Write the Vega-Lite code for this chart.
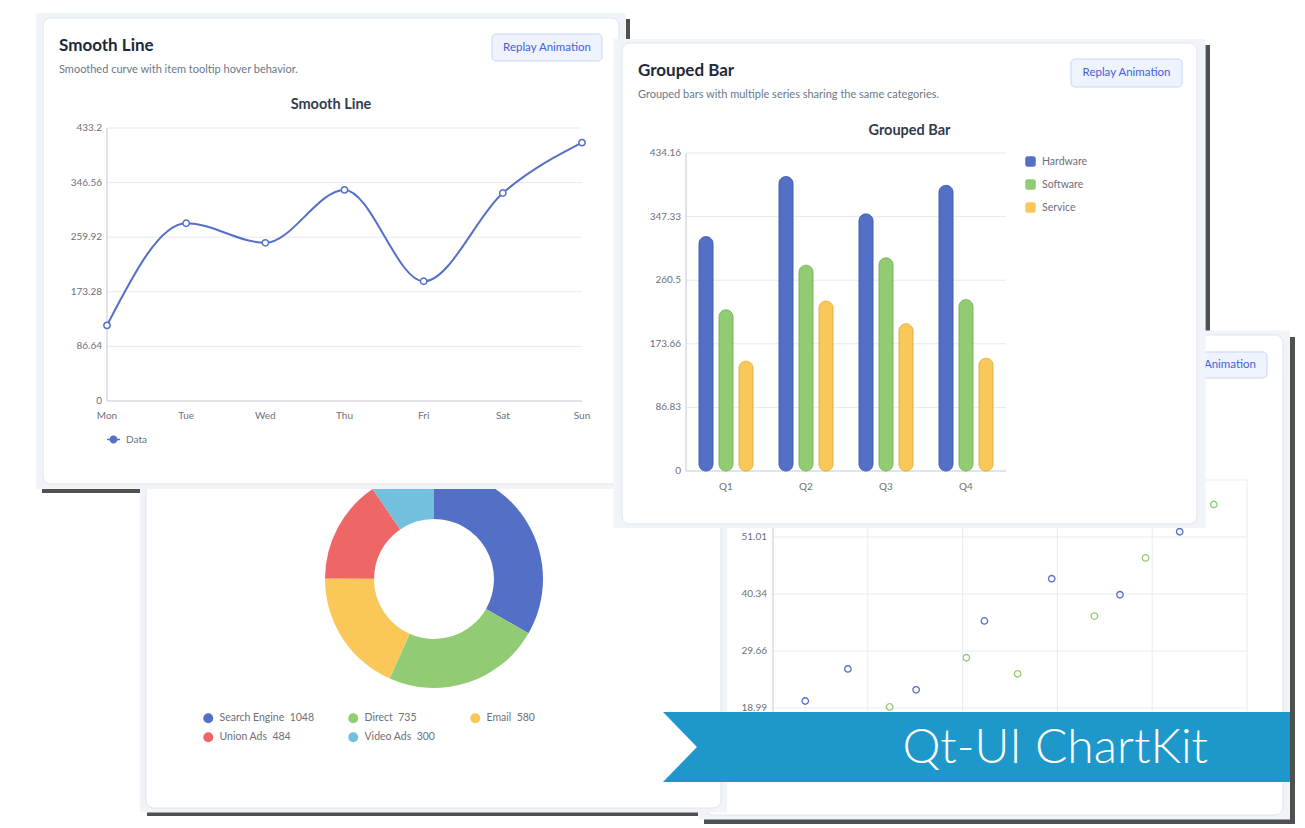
{
"$schema": "https://vega.github.io/schema/vega-lite/v6.json",
"width": 1305,
"height": 828,
"autosize": {"type": "none"},
"padding": 0,
"background": "#ffffff",
"config": {"view": {"stroke": null}, "font": "Lato", "axis": {"disable": true}, "legend": {"padding": 0}},
"resolve": {"scale": {"x": "independent", "y": "independent", "color": "independent", "stroke": "independent", "theta": "independent"}, "legend": {"color": "independent"}},
"layer": [
{"data": {"values": [{"shadow": "Smooth Line"}]}, "mark": {"type": "rect", "color": "#505050"},
 "encoding": {"x": {"field": "shadow", "type": "nominal", "scale": {"type": "band", "domain": ["Smooth Line"], "range": [42, 630], "paddingInner": 0, "paddingOuter": 0}},
              "y": {"field": "shadow", "type": "nominal", "scale": {"type": "band", "domain": ["Smooth Line"], "range": [19, 493], "paddingInner": 0, "paddingOuter": 0}}}},
{"data": {"values": [{"shadow": "Grouped Bar"}]}, "mark": {"type": "rect", "color": "#505050"},
 "encoding": {"x": {"field": "shadow", "type": "nominal", "scale": {"type": "band", "domain": ["Grouped Bar"], "range": [620, 1210], "paddingInner": 0, "paddingOuter": 0}},
              "y": {"field": "shadow", "type": "nominal", "scale": {"type": "band", "domain": ["Grouped Bar"], "range": [45, 532], "paddingInner": 0, "paddingOuter": 0}}}},
{"data": {"values": [{"shadow": "Donut"}]}, "mark": {"type": "rect", "color": "#505050"},
 "encoding": {"x": {"field": "shadow", "type": "nominal", "scale": {"type": "band", "domain": ["Donut"], "range": [147, 732], "paddingInner": 0, "paddingOuter": 0}},
              "y": {"field": "shadow", "type": "nominal", "scale": {"type": "band", "domain": ["Donut"], "range": [336, 816], "paddingInner": 0, "paddingOuter": 0}}}},
{"data": {"values": [{"shadow": "Scatter"}]}, "mark": {"type": "rect", "color": "#505050"},
 "encoding": {"x": {"field": "shadow", "type": "nominal", "scale": {"type": "band", "domain": ["Scatter"], "range": [704, 1295], "paddingInner": 0, "paddingOuter": 0}},
              "y": {"field": "shadow", "type": "nominal", "scale": {"type": "band", "domain": ["Scatter"], "range": [337, 824], "paddingInner": 0, "paddingOuter": 0}}}},

{"data": {"values": [{"panel": "Scatter"}]},
 "encoding": {"x": {"field": "panel", "type": "nominal", "scale": {"type": "band", "domain": ["Scatter"], "range": [705, 1283], "paddingInner": 0, "paddingOuter": 0}},
              "y": {"field": "panel", "type": "nominal", "scale": {"type": "band", "domain": ["Scatter"], "range": [335, 815], "paddingInner": 0, "paddingOuter": 0}}},
 "layer": [
  {"mark": {"type": "rect", "color": "#f1f4f9", "width": {"band": 1.0242}, "height": {"band": 1.0188}}},
  {"mark": {"type": "rect", "fill": "#ffffff", "stroke": "#dfe5ee", "strokeWidth": 1, "cornerRadius": 8}}
 ]},
{"data": {"values": [{"button": "Replay Animation"}]},
 "encoding": {"x": {"field": "button", "type": "nominal", "scale": {"type": "band", "domain": ["Replay Animation"], "range": [1157, 1267], "paddingInner": 0, "paddingOuter": 0}},
              "y": {"field": "button", "type": "nominal", "scale": {"type": "band", "domain": ["Replay Animation"], "range": [352, 378], "paddingInner": 0, "paddingOuter": 0}}},
 "layer": [
  {"mark": {"type": "rect", "fill": "#eef3fe", "stroke": "#c7d6f6", "strokeWidth": 1, "cornerRadius": 4}},
  {"mark": {"type": "text", "align": "center", "baseline": "middle", "fontSize": 11.5, "color": "#4461d8"}, "encoding": {"text": {"field": "button"}}}
 ]},
{"layer": [
  {"data": {"values": [{"tick": 10}, {"tick": 20}, {"tick": 30}, {"tick": 40}, {"tick": 50}]},
   "mark": {"type": "rule", "color": "#e8ebf2", "strokeWidth": 1},
   "encoding": {"x": {"field": "tick", "type": "quantitative", "scale": {"type": "linear", "domain": [0, 50], "range": [773, 1247], "nice": false, "zero": false}},
                "y": {"datum": 8.315, "type": "quantitative", "scale": {"type": "linear", "domain": [8.315, 61.69], "range": [765, 480], "nice": false, "zero": false}},
                "y2": {"datum": 61.69}}},
  {"data": {"values": [{"tick": 18.99}, {"tick": 29.66}, {"tick": 40.34}, {"tick": 51.01}, {"tick": 61.69}]},
   "mark": {"type": "rule", "color": "#e8ebf2", "strokeWidth": 1},
   "encoding": {"y": {"field": "tick", "type": "quantitative", "scale": {"type": "linear", "domain": [8.315, 61.69], "range": [765, 480], "nice": false, "zero": false}},
                "x": {"datum": 0, "type": "quantitative", "scale": {"type": "linear", "domain": [0, 50], "range": [773, 1247], "nice": false, "zero": false}},
                "x2": {"datum": 50}}},
  {"data": {"values": [{"axis": "y"}]},
   "mark": {"type": "rule", "color": "#c3c8d6", "strokeWidth": 1},
   "encoding": {"x": {"datum": 0, "type": "quantitative", "scale": {"type": "linear", "domain": [0, 50], "range": [773, 1247], "nice": false, "zero": false}},
                "y": {"datum": 8.315, "type": "quantitative", "scale": {"type": "linear", "domain": [8.315, 61.69], "range": [765, 480], "nice": false, "zero": false}},
                "y2": {"datum": 61.69}}},
  {"data": {"values": [{"tick": 18.99}, {"tick": 29.66}, {"tick": 40.34}, {"tick": 51.01}]},
   "mark": {"type": "text", "align": "right", "baseline": "middle", "dx": -6, "fontSize": 10, "color": "#6e7079"},
   "encoding": {"x": {"datum": 0, "type": "quantitative", "scale": {"type": "linear", "domain": [0, 50], "range": [773, 1247], "nice": false, "zero": false}},
                "y": {"field": "tick", "type": "quantitative", "scale": {"type": "linear", "domain": [8.315, 61.69], "range": [765, 480], "nice": false, "zero": false}},
                "text": {"field": "tick", "type": "quantitative", "format": "~r"}}},
  {"data": {"values": [
     {"series": "Series A", "x": 3.4, "y": 20.3}, {"series": "Series A", "x": 7.9, "y": 26.3}, {"series": "Series A", "x": 15.1, "y": 22.4},
     {"series": "Series A", "x": 22.3, "y": 35.3}, {"series": "Series A", "x": 29.4, "y": 43.2}, {"series": "Series A", "x": 36.6, "y": 40.2},
     {"series": "Series A", "x": 42.9, "y": 52.0},
     {"series": "Series B", "x": 12.3, "y": 19.2}, {"series": "Series B", "x": 20.4, "y": 28.4}, {"series": "Series B", "x": 25.8, "y": 25.4},
     {"series": "Series B", "x": 33.9, "y": 36.2}, {"series": "Series B", "x": 39.3, "y": 47.1}, {"series": "Series B", "x": 46.5, "y": 57.1}]},
   "mark": {"type": "point", "filled": false, "size": 42, "strokeWidth": 1.3, "opacity": 1},
   "encoding": {"x": {"field": "x", "type": "quantitative", "scale": {"type": "linear", "domain": [0, 50], "range": [773, 1247], "nice": false, "zero": false}},
                "y": {"field": "y", "type": "quantitative", "scale": {"type": "linear", "domain": [8.315, 61.69], "range": [765, 480], "nice": false, "zero": false}},
                "color": {"field": "series", "type": "nominal", "scale": {"domain": ["Series A", "Series B"], "range": ["#5470c6", "#91cc75"]}, "legend": null}}}
 ]},

{"data": {"values": [{"panel": "Donut"}]},
 "encoding": {"x": {"field": "panel", "type": "nominal", "scale": {"type": "band", "domain": ["Donut"], "range": [146, 721], "paddingInner": 0, "paddingOuter": 0}},
              "y": {"field": "panel", "type": "nominal", "scale": {"type": "band", "domain": ["Donut"], "range": [335, 808], "paddingInner": 0, "paddingOuter": 0}}},
 "layer": [
  {"mark": {"type": "rect", "color": "#f1f4f9", "width": {"band": 1.0209}, "height": {"band": 1.019}}},
  {"mark": {"type": "rect", "fill": "#ffffff", "stroke": "#dfe5ee", "strokeWidth": 1, "cornerRadius": 8}}
 ]},
{"data": {"values": [
   {"source": "Search Engine", "value": 1048, "entry": "Search Engine\u00a0 1048"},
   {"source": "Direct", "value": 735, "entry": "Direct\u00a0 735"},
   {"source": "Email", "value": 580, "entry": "Email\u00a0 580"},
   {"source": "Union Ads", "value": 484, "entry": "Union Ads\u00a0 484"},
   {"source": "Video Ads", "value": 300, "entry": "Video Ads\u00a0 300"}]},
 "mark": {"type": "arc", "outerRadius": 109, "innerRadius": 60},
 "encoding": {
   "x": {"datum": "Traffic", "type": "nominal", "scale": {"type": "point", "domain": ["Traffic"], "range": [325, 543], "padding": 0.5}},
   "y": {"datum": "Traffic", "type": "nominal", "scale": {"type": "point", "domain": ["Traffic"], "range": [470, 688], "padding": 0.5}},
   "theta": {"field": "value", "type": "quantitative", "stack": true},
   "order": {"field": "value", "type": "quantitative", "sort": "descending"},
   "color": {"field": "entry", "type": "nominal",
             "scale": {"domain": ["Search Engine\u00a0 1048", "Direct\u00a0 735", "Email\u00a0 580", "Union Ads\u00a0 484", "Video Ads\u00a0 300"], "range": ["#5470c6", "#91cc75", "#fac858", "#ee6666", "#73c0de"]},
             "legend": {"orient": "none", "legendX": 203, "legendY": 713, "title": null, "direction": "horizontal", "columns": 3, "gridAlign": "none", "columnPadding": 34, "rowPadding": 8,
                        "symbolType": "circle", "symbolSize": 100, "symbolStrokeWidth": 0, "labelFontSize": 10.5, "labelColor": "#6e7079", "labelOffset": 6}}
 }},

{"data": {"values": [{"panel": "Smooth Line", "heading": "Smooth Line", "description": "Smoothed curve with item tooltip hover behavior.", "chartTitle": "Smooth Line"}]},
 "encoding": {"x": {"field": "panel", "type": "nominal", "scale": {"type": "band", "domain": ["Smooth Line"], "range": [43, 619], "paddingInner": 0, "paddingOuter": 0}},
              "y": {"field": "panel", "type": "nominal", "scale": {"type": "band", "domain": ["Smooth Line"], "range": [18, 484], "paddingInner": 0, "paddingOuter": 0}}},
 "layer": [
  {"mark": {"type": "rect", "color": "#f1f4f9", "width": {"band": 1.0243}, "height": {"band": 1.0215}}},
  {"mark": {"type": "rect", "fill": "#ffffff", "stroke": "#dfe5ee", "strokeWidth": 1, "cornerRadius": 8}},
  {"mark": {"type": "text", "align": "left", "baseline": "alphabetic", "dx": 16, "dy": 33, "fontSize": 17, "fontWeight": "bold", "color": "#1d2939"},
   "encoding": {"x": {"field": "panel", "type": "nominal", "bandPosition": 0}, "y": {"field": "panel", "type": "nominal", "bandPosition": 0}, "text": {"field": "heading"}}},
  {"mark": {"type": "text", "align": "left", "baseline": "alphabetic", "dx": 16, "dy": 55, "fontSize": 11, "color": "#6b778a"},
   "encoding": {"x": {"field": "panel", "type": "nominal", "bandPosition": 0}, "y": {"field": "panel", "type": "nominal", "bandPosition": 0}, "text": {"field": "description"}}},
  {"mark": {"type": "text", "align": "center", "baseline": "alphabetic", "dx": 0, "dy": 91, "fontSize": 14.5, "fontWeight": "bold", "color": "#333c4e"},
   "encoding": {"x": {"field": "panel", "type": "nominal", "bandPosition": 0.5}, "y": {"field": "panel", "type": "nominal", "bandPosition": 0}, "text": {"field": "chartTitle"}}}
 ]},
{"data": {"values": [{"button": "Replay Animation"}]},
 "encoding": {"x": {"field": "button", "type": "nominal", "scale": {"type": "band", "domain": ["Replay Animation"], "range": [492, 602], "paddingInner": 0, "paddingOuter": 0}},
              "y": {"field": "button", "type": "nominal", "scale": {"type": "band", "domain": ["Replay Animation"], "range": [34, 61], "paddingInner": 0, "paddingOuter": 0}}},
 "layer": [
  {"mark": {"type": "rect", "fill": "#eef3fe", "stroke": "#c7d6f6", "strokeWidth": 1, "cornerRadius": 4}},
  {"mark": {"type": "text", "align": "center", "baseline": "middle", "fontSize": 11.5, "color": "#4461d8"}, "encoding": {"text": {"field": "button"}}}
 ]},
{"layer": [
  {"data": {"values": [{"tick": 86.64}, {"tick": 173.28}, {"tick": 259.92}, {"tick": 346.56}, {"tick": 433.2}]},
   "mark": {"type": "rule", "color": "#e6e9f1", "strokeWidth": 1},
   "encoding": {"y": {"field": "tick", "type": "quantitative", "scale": {"type": "linear", "domain": [0, 433.2], "range": [401, 128], "nice": false, "zero": false}},
                "x": {"datum": "Mon", "type": "nominal", "scale": {"type": "point", "domain": ["Mon", "Tue", "Wed", "Thu", "Fri", "Sat", "Sun"], "range": [107, 582], "padding": 0}},
                "x2": {"datum": "Sun"}}},
  {"data": {"values": [{"axis": "x"}]},
   "mark": {"type": "rule", "color": "#c3c8d6", "strokeWidth": 1},
   "encoding": {"y": {"datum": 0, "type": "quantitative", "scale": {"type": "linear", "domain": [0, 433.2], "range": [401, 128], "nice": false, "zero": false}},
                "x": {"datum": "Mon", "type": "nominal", "scale": {"type": "point", "domain": ["Mon", "Tue", "Wed", "Thu", "Fri", "Sat", "Sun"], "range": [107, 582], "padding": 0}},
                "x2": {"datum": "Sun"}}},
  {"data": {"values": [{"axis": "y"}]},
   "mark": {"type": "rule", "color": "#c3c8d6", "strokeWidth": 1},
   "encoding": {"x": {"datum": "Mon", "type": "nominal", "scale": {"type": "point", "domain": ["Mon", "Tue", "Wed", "Thu", "Fri", "Sat", "Sun"], "range": [107, 582], "padding": 0}},
                "y": {"datum": 0, "type": "quantitative", "scale": {"type": "linear", "domain": [0, 433.2], "range": [401, 128], "nice": false, "zero": false}},
                "y2": {"datum": 433.2}}},
  {"data": {"values": [{"tick": 0}, {"tick": 86.64}, {"tick": 173.28}, {"tick": 259.92}, {"tick": 346.56}, {"tick": 433.2}]},
   "mark": {"type": "text", "align": "right", "baseline": "middle", "dx": -5, "fontSize": 10, "color": "#6e7079"},
   "encoding": {"x": {"datum": "Mon", "type": "nominal", "scale": {"type": "point", "domain": ["Mon", "Tue", "Wed", "Thu", "Fri", "Sat", "Sun"], "range": [107, 582], "padding": 0}},
                "y": {"field": "tick", "type": "quantitative", "scale": {"type": "linear", "domain": [0, 433.2], "range": [401, 128], "nice": false, "zero": false}},
                "text": {"field": "tick", "type": "quantitative", "format": "~r"}}},
  {"data": {"values": [{"day": "Mon"}, {"day": "Tue"}, {"day": "Wed"}, {"day": "Thu"}, {"day": "Fri"}, {"day": "Sat"}, {"day": "Sun"}]},
   "mark": {"type": "text", "align": "center", "baseline": "middle", "dy": 15, "fontSize": 10, "color": "#6e7079"},
   "encoding": {"x": {"field": "day", "type": "nominal", "scale": {"type": "point", "domain": ["Mon", "Tue", "Wed", "Thu", "Fri", "Sat", "Sun"], "range": [107, 582], "padding": 0}},
                "y": {"datum": 0, "type": "quantitative", "scale": {"type": "linear", "domain": [0, 433.2], "range": [401, 128], "nice": false, "zero": false}},
                "text": {"field": "day"}}},
  {"data": {"values": [{"series": "Data", "day": "Mon", "value": 120}, {"series": "Data", "day": "Tue", "value": 282}, {"series": "Data", "day": "Wed", "value": 251},
                       {"series": "Data", "day": "Thu", "value": 335}, {"series": "Data", "day": "Fri", "value": 190}, {"series": "Data", "day": "Sat", "value": 330},
                       {"series": "Data", "day": "Sun", "value": 410}]},
   "mark": {"type": "line", "interpolate": "monotone", "strokeWidth": 2},
   "encoding": {"x": {"field": "day", "type": "nominal", "scale": {"type": "point", "domain": ["Mon", "Tue", "Wed", "Thu", "Fri", "Sat", "Sun"], "range": [107, 582], "padding": 0}},
                "y": {"field": "value", "type": "quantitative", "scale": {"type": "linear", "domain": [0, 433.2], "range": [401, 128], "nice": false, "zero": false}},
                "order": {"value": null},
                "color": {"field": "series", "type": "nominal", "scale": {"domain": ["Data"], "range": ["#5470c6"]},
                          "legend": {"orient": "none", "legendX": 106, "legendY": 432, "title": null, "labelFontSize": 10, "labelColor": "#6e7079", "labelOffset": 5,
                                     "symbolType": "M-1,0L1,0M-0.5,0A0.5,0.5 0 1,1 0.5,0A0.5,0.5 0 1,1 -0.5,0Z", "symbolSize": 169,
                                     "symbolFillColor": "#5470c6", "symbolStrokeColor": "#5470c6", "symbolStrokeWidth": 1.5}}}},
  {"data": {"values": [{"series": "Data", "day": "Mon", "value": 120}, {"series": "Data", "day": "Tue", "value": 282}, {"series": "Data", "day": "Wed", "value": 251},
                       {"series": "Data", "day": "Thu", "value": 335}, {"series": "Data", "day": "Fri", "value": 190}, {"series": "Data", "day": "Sat", "value": 330},
                       {"series": "Data", "day": "Sun", "value": 410}]},
   "mark": {"type": "point", "filled": true, "fill": "#ffffff", "stroke": "#5470c6", "strokeWidth": 1.5, "size": 40, "opacity": 1},
   "encoding": {"x": {"field": "day", "type": "nominal", "scale": {"type": "point", "domain": ["Mon", "Tue", "Wed", "Thu", "Fri", "Sat", "Sun"], "range": [107, 582], "padding": 0}},
                "y": {"field": "value", "type": "quantitative", "scale": {"type": "linear", "domain": [0, 433.2], "range": [401, 128], "nice": false, "zero": false}}}}
 ]},

{"data": {"values": [{"panel": "Grouped Bar", "heading": "Grouped Bar", "description": "Grouped bars with multiple series sharing the same categories.", "chartTitle": "Grouped Bar"}]},
 "encoding": {"x": {"field": "panel", "type": "nominal", "scale": {"type": "band", "domain": ["Grouped Bar"], "range": [622, 1197], "paddingInner": 0, "paddingOuter": 0}},
              "y": {"field": "panel", "type": "nominal", "scale": {"type": "band", "domain": ["Grouped Bar"], "range": [43, 524], "paddingInner": 0, "paddingOuter": 0}}},
 "layer": [
  {"mark": {"type": "rect", "color": "#f1f4f9", "width": {"band": 1.03}, "height": {"band": 1.0166}}},
  {"mark": {"type": "rect", "fill": "#ffffff", "stroke": "#dfe5ee", "strokeWidth": 1, "cornerRadius": 8}},
  {"mark": {"type": "text", "align": "left", "baseline": "alphabetic", "dx": 16, "dy": 33, "fontSize": 17, "fontWeight": "bold", "color": "#1d2939"},
   "encoding": {"x": {"field": "panel", "type": "nominal", "bandPosition": 0}, "y": {"field": "panel", "type": "nominal", "bandPosition": 0}, "text": {"field": "heading"}}},
  {"mark": {"type": "text", "align": "left", "baseline": "alphabetic", "dx": 16, "dy": 55, "fontSize": 11, "color": "#6b778a"},
   "encoding": {"x": {"field": "panel", "type": "nominal", "bandPosition": 0}, "y": {"field": "panel", "type": "nominal", "bandPosition": 0}, "text": {"field": "description"}}},
  {"mark": {"type": "text", "align": "center", "baseline": "alphabetic", "dx": 0, "dy": 92, "fontSize": 14.5, "fontWeight": "bold", "color": "#333c4e"},
   "encoding": {"x": {"field": "panel", "type": "nominal", "bandPosition": 0.5}, "y": {"field": "panel", "type": "nominal", "bandPosition": 0}, "text": {"field": "chartTitle"}}}
 ]},
{"data": {"values": [{"button": "Replay Animation"}]},
 "encoding": {"x": {"field": "button", "type": "nominal", "scale": {"type": "band", "domain": ["Replay Animation"], "range": [1071, 1182], "paddingInner": 0, "paddingOuter": 0}},
              "y": {"field": "button", "type": "nominal", "scale": {"type": "band", "domain": ["Replay Animation"], "range": [59, 87], "paddingInner": 0, "paddingOuter": 0}}},
 "layer": [
  {"mark": {"type": "rect", "fill": "#eef3fe", "stroke": "#c7d6f6", "strokeWidth": 1, "cornerRadius": 4}},
  {"mark": {"type": "text", "align": "center", "baseline": "middle", "fontSize": 11.5, "color": "#4461d8"}, "encoding": {"text": {"field": "button"}}}
 ]},
{"layer": [
  {"data": {"values": [{"tick": 86.83}, {"tick": 173.66}, {"tick": 260.5}, {"tick": 347.33}, {"tick": 434.16}]},
   "mark": {"type": "rule", "color": "#e6e9f1", "strokeWidth": 1},
   "encoding": {"y": {"field": "tick", "type": "quantitative", "scale": {"type": "linear", "domain": [0, 434.16], "range": [471, 153], "nice": false, "zero": false}},
                "x": {"datum": "Q1", "type": "nominal", "bandPosition": 0, "scale": {"type": "band", "domain": ["Q1", "Q2", "Q3", "Q4"], "range": [686, 1006], "paddingInner": 0, "paddingOuter": 0}},
                "x2": {"datum": "Q4", "bandPosition": 1}}},
  {"data": {"values": [{"axis": "x"}]},
   "mark": {"type": "rule", "color": "#c3c8d6", "strokeWidth": 1},
   "encoding": {"y": {"datum": 0, "type": "quantitative", "scale": {"type": "linear", "domain": [0, 434.16], "range": [471, 153], "nice": false, "zero": false}},
                "x": {"datum": "Q1", "type": "nominal", "bandPosition": 0, "scale": {"type": "band", "domain": ["Q1", "Q2", "Q3", "Q4"], "range": [686, 1006], "paddingInner": 0, "paddingOuter": 0}},
                "x2": {"datum": "Q4", "bandPosition": 1}}},
  {"data": {"values": [{"axis": "y"}]},
   "mark": {"type": "rule", "color": "#c3c8d6", "strokeWidth": 1},
   "encoding": {"x": {"datum": "Q1", "type": "nominal", "bandPosition": 0, "scale": {"type": "band", "domain": ["Q1", "Q2", "Q3", "Q4"], "range": [686, 1006], "paddingInner": 0, "paddingOuter": 0}},
                "y": {"datum": 0, "type": "quantitative", "scale": {"type": "linear", "domain": [0, 434.16], "range": [471, 153], "nice": false, "zero": false}},
                "y2": {"datum": 434.16}}},
  {"data": {"values": [{"tick": 0}, {"tick": 86.83}, {"tick": 173.66}, {"tick": 260.5}, {"tick": 347.33}, {"tick": 434.16}]},
   "mark": {"type": "text", "align": "right", "baseline": "middle", "dx": -5, "fontSize": 10, "color": "#6e7079"},
   "encoding": {"x": {"datum": "Q1", "type": "nominal", "bandPosition": 0, "scale": {"type": "band", "domain": ["Q1", "Q2", "Q3", "Q4"], "range": [686, 1006], "paddingInner": 0, "paddingOuter": 0}},
                "y": {"field": "tick", "type": "quantitative", "scale": {"type": "linear", "domain": [0, 434.16], "range": [471, 153], "nice": false, "zero": false}},
                "text": {"field": "tick", "type": "quantitative", "format": "~r"}}},
  {"data": {"values": [{"quarter": "Q1"}, {"quarter": "Q2"}, {"quarter": "Q3"}, {"quarter": "Q4"}]},
   "mark": {"type": "text", "align": "center", "baseline": "middle", "dy": 16, "fontSize": 10, "color": "#6e7079"},
   "encoding": {"x": {"field": "quarter", "type": "nominal", "scale": {"type": "band", "domain": ["Q1", "Q2", "Q3", "Q4"], "range": [686, 1006], "paddingInner": 0, "paddingOuter": 0}},
                "y": {"datum": 0, "type": "quantitative", "scale": {"type": "linear", "domain": [0, 434.16], "range": [471, 153], "nice": false, "zero": false}},
                "text": {"field": "quarter"}}},
  {"data": {"values": [
     {"quarter": "Q1", "series": "Hardware", "value": 320}, {"quarter": "Q1", "series": "Software", "value": 220}, {"quarter": "Q1", "series": "Service", "value": 150},
     {"quarter": "Q2", "series": "Hardware", "value": 402}, {"quarter": "Q2", "series": "Software", "value": 281}, {"quarter": "Q2", "series": "Service", "value": 232},
     {"quarter": "Q3", "series": "Hardware", "value": 351}, {"quarter": "Q3", "series": "Software", "value": 291}, {"quarter": "Q3", "series": "Service", "value": 201},
     {"quarter": "Q4", "series": "Hardware", "value": 390}, {"quarter": "Q4", "series": "Software", "value": 234}, {"quarter": "Q4", "series": "Service", "value": 154}]},
   "mark": {"type": "bar", "cornerRadius": 7, "strokeWidth": 1},
   "encoding": {"x": {"field": "quarter", "type": "nominal", "scale": {"type": "band", "domain": ["Q1", "Q2", "Q3", "Q4"], "range": [686, 1006], "paddingInner": 0, "paddingOuter": 0}},
                "xOffset": {"field": "series", "type": "nominal", "scale": {"domain": ["Hardware", "Software", "Service"], "paddingInner": 0.3, "paddingOuter": 0.65}},
                "y": {"field": "value", "type": "quantitative", "scale": {"type": "linear", "domain": [0, 434.16], "range": [471, 153], "nice": false, "zero": false}},
                "color": {"field": "series", "type": "nominal", "scale": {"domain": ["Hardware", "Software", "Service"], "range": ["#5470c6", "#91cc75", "#fac858"]},
                          "legend": {"orient": "none", "legendX": 1025, "legendY": 156, "title": null, "direction": "vertical",
                                     "symbolType": "M-0.55,-1H0.55Q1,-1 1,-0.55V0.55Q1,1 0.55,1H-0.55Q-1,1 -1,0.55V-0.55Q-1,-1 -0.55,-1Z", "symbolSize": 110, "symbolStrokeWidth": 0,
                                     "labelFontSize": 10.5, "labelColor": "#6e7079", "labelOffset": 6, "rowPadding": 12}},
                "stroke": {"field": "series", "type": "nominal", "scale": {"domain": ["Hardware", "Software", "Service"], "range": ["#4762b5", "#7fba63", "#e5b548"]}, "legend": null}}}
 ]},

{"data": {"values": [{"banner": "Qt-UI ChartKit"}]},
 "encoding": {"x": {"field": "banner", "type": "nominal", "scale": {"type": "band", "domain": ["Qt-UI ChartKit"], "range": [663, 1290], "paddingInner": 0, "paddingOuter": 0}},
              "y": {"field": "banner", "type": "nominal", "scale": {"type": "band", "domain": ["Qt-UI ChartKit"], "range": [712, 782], "paddingInner": 0, "paddingOuter": 0}}},
 "layer": [
  {"mark": {"type": "rect", "color": "#1e98cb"}},
  {"mark": {"type": "point", "shape": "M0,-1L0.97,0L0,1Z", "size": 4900, "filled": true, "color": "#ffffff", "opacity": 1, "strokeWidth": 0},
   "encoding": {"x": {"field": "banner", "type": "nominal", "bandPosition": 0}}},
  {"mark": {"type": "text", "align": "right", "baseline": "alphabetic", "dx": -82, "dy": 16, "fontSize": 48, "fontWeight": 300, "color": "#ffffff"},
   "encoding": {"x": {"field": "banner", "type": "nominal", "bandPosition": 1}, "text": {"field": "banner"}}}
 ]}
]
}
